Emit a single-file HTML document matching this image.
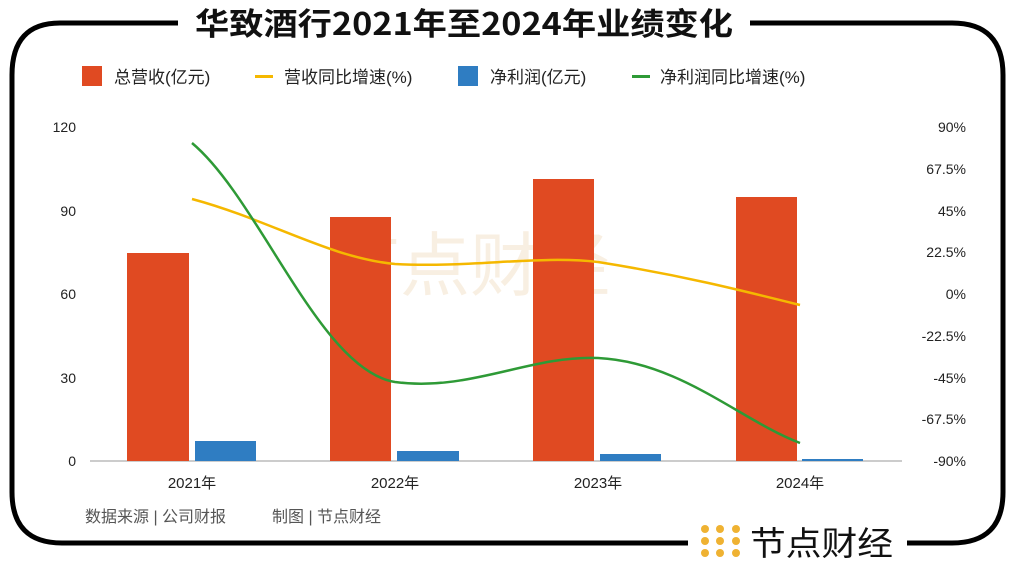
<!DOCTYPE html>
<html><head><meta charset="utf-8"><style>
body{margin:0;background:#fff;}
svg text{font-family:"Liberation Sans","Noto Sans CJK SC",sans-serif;}
svg text.cjk{font-family:"Noto Sans CJK SC",sans-serif;}
</style></head><body>
<svg width="1014" height="571" viewBox="0 0 1014 571" xmlns="http://www.w3.org/2000/svg">
<rect width="1014" height="571" fill="#fff"/>
<path d="M178 23 H60 Q12 23 12 75 V492 Q12 543 62 543 H688 M907 543 H952 Q1003 543 1003 492 V75 Q1003 23 952 23 H750" fill="none" stroke="#000" stroke-width="5"/>
<text class="cjk" x="464" y="35" font-size="31" font-weight="bold" text-anchor="middle" fill="#111" textLength="538" lengthAdjust="spacingAndGlyphs">华致酒行2021年至2024年业绩变化</text>
<g font-size="17" fill="#222">
<rect x="82" y="66" width="20" height="20" fill="#e04a22"/><text x="114" y="83">总营收(亿元)</text>
<rect x="255" y="75" width="18" height="3" fill="#f5b800"/><text x="284" y="83">营收同比增速(%)</text>
<rect x="458" y="66" width="20" height="20" fill="#2f7dc2"/><text x="490" y="83">净利润(亿元)</text>
<rect x="632" y="75" width="18" height="3" fill="#2e9a36"/><text x="660" y="83">净利润同比增速(%)</text>
</g>
<g fill="#f5e5d0" opacity="0.6"><text class="cjk" x="330" y="290" font-size="70">节点财经</text></g>
<line x1="90" y1="461" x2="902" y2="461" stroke="#999"/>
<g font-size="14" fill="#222" text-anchor="end">
<text x="76" y="132">120</text><text x="76" y="216">90</text><text x="76" y="299">60</text><text x="76" y="383">30</text><text x="76" y="466">0</text>
</g>
<g font-size="14" fill="#222" text-anchor="end">
<text x="966" y="132">90%</text><text x="966" y="174">67.5%</text><text x="966" y="216">45%</text><text x="966" y="257">22.5%</text><text x="966" y="299">0%</text><text x="966" y="341">-22.5%</text><text x="966" y="383">-45%</text><text x="966" y="424">-67.5%</text><text x="966" y="466">-90%</text>
</g>
<g fill="#e04a22">
<rect x="127" y="253" width="62" height="208"/><rect x="330" y="217" width="61" height="244"/><rect x="533" y="179" width="61" height="282"/><rect x="736" y="197" width="61" height="264"/>
</g>
<g fill="#2f7dc2">
<rect x="195" y="441" width="61" height="20"/><rect x="397" y="451" width="62" height="10"/><rect x="600" y="454" width="61" height="7"/><rect x="802" y="459" width="61" height="2"/>
</g>
<path d="M192 199 C270 220 330 258 395 264 C470 268 540 255 598 262 C680 275 740 290 800 305" fill="none" stroke="#f5b800" stroke-width="2.5"/>
<path d="M192 143 C260 200 320 370 395 382 C470 392 530 355 598 358 C680 362 740 420 800 443" fill="none" stroke="#2e9a36" stroke-width="2.5"/>
<g font-size="15" fill="#222" text-anchor="middle">
<text x="192" y="488">2021年</text><text x="395" y="488">2022年</text><text x="598" y="488">2023年</text><text x="800" y="488">2024年</text>
</g>
<text x="85" y="522" font-size="16" fill="#555">数据来源 | 公司财报</text>
<text x="272" y="522" font-size="16" fill="#555">制图 | 节点财经</text>
<g fill="#efb232">
<circle cx="705" cy="529" r="4"/><circle cx="720" cy="529" r="4"/><circle cx="736" cy="529" r="4"/>
<circle cx="736" cy="541" r="4"/><circle cx="705" cy="541" r="4"/><circle cx="720" cy="541" r="4"/>
<circle cx="705" cy="553" r="4"/><circle cx="720" cy="553" r="4"/><circle cx="736" cy="553" r="4"/>
</g>
<text class="cjk" x="750" y="555" font-size="33" fill="#111" textLength="143" lengthAdjust="spacingAndGlyphs">节点财经</text>
</svg>
</body></html>
